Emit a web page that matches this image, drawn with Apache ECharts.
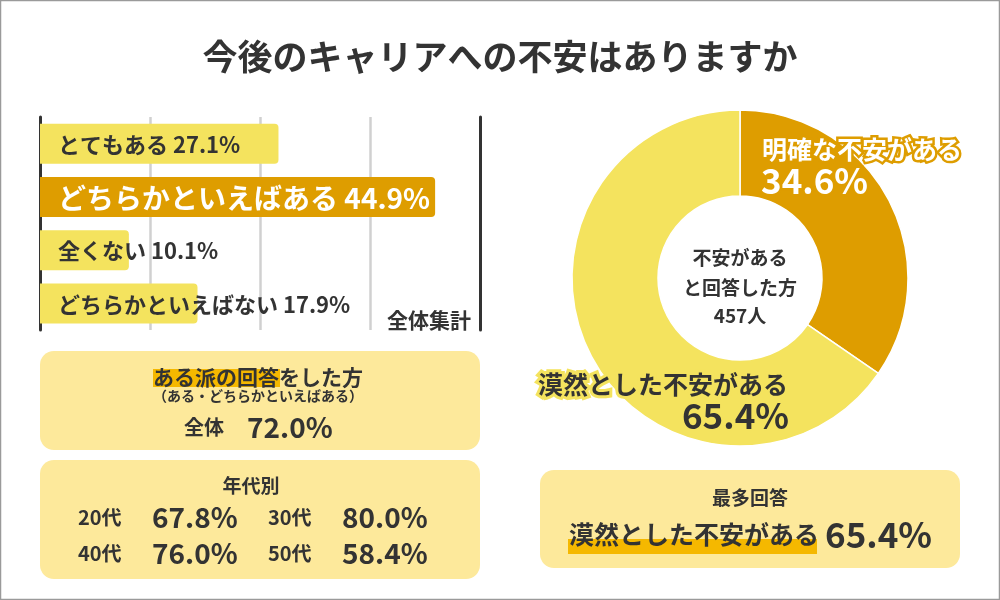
<!DOCTYPE html>
<html>
<head>
<meta charset="utf-8">
<script src="https://cdn.jsdelivr.net/npm/echarts@6/dist/echarts.min.js"></script>
<style>
  html, body { margin: 0; padding: 0; background: #fff; }
  #main { width: 1000px; height: 600px; }
</style>
</head>
<body>
<div id="main"></div>
<script>
// 全体集計（横棒）
var barNames = ['とてもある', 'どちらかといえばある', '全くない', 'どちらかといえばない'];
var barValues = [27.1, 44.9, 10.1, 17.9];

// 不安がある方の内訳（ドーナツ）
var pieNames = ['明確な不安がある', '漠然とした不安がある'];
var pieValues = [34.6, 65.4];
var pieTotal = 457;

// ある派の回答
var overallValue = 72.0;
var ageGroups = ['20代', '30代', '40代', '50代'];
var ageValues = [67.8, 80.0, 76.0, 58.4];

var FONT = '"Noto Sans CJK JP", "Noto Sans", sans-serif';
var DARK = '#333333';
var GOLD = '#DE9D00';
var YELLOW = '#F4E35E';
var PALE = '#FDE99B';
var HILITE = '#F5B800';

var maxIdx = barValues.indexOf(Math.max.apply(null, barValues));

function pct(v) {
  return v.toFixed(1) + '%';
}

function txt(x, y, text, size, opts) {
  opts = opts || {};
  return {
    type: 'text', x: x, y: y, z: opts.z || 10,
    style: {
      text: text,
      font: 'bold ' + size + 'px ' + FONT,
      fill: opts.fill || DARK,
      align: opts.align || 'center',
      verticalAlign: 'middle',
      stroke: opts.stroke,
      lineWidth: opts.lineWidth || 0
    }
  };
}

function box(x, y, w, h, fill, r) {
  return { type: 'rect', z: 1, shape: { x: x, y: y, width: w, height: h, r: r || 0 }, style: { fill: fill } };
}

var graphics = [
  // 外枠
  { type: 'rect', z: 0, shape: { x: 0.5, y: 0.5, width: 999, height: 599 }, style: { fill: 'none', stroke: '#9a9a9a', lineWidth: 1.5 } },
  txt(500, 57, '今後のキャリアへの不安はありますか', 35),
  txt(471, 320, '全体集計', 21, { align: 'right' }),

  // ある派の回答
  box(40, 351, 440, 99, PALE, 14),
  box(153, 369, 127, 18, HILITE, 0),
  txt(258, 377, 'ある派の回答をした方', 21),
  txt(258, 396, '（ある・どちらかといえばある）', 14),
  txt(204, 427, '全体', 20),
  txt(247, 427, pct(overallValue), 28, { align: 'left' }),

  // 年代別
  box(40, 460, 440, 119, PALE, 14),
  txt(251, 486, '年代別', 19)
];

// 年代別の 2x2
var ageCols = [[78, 152], [268, 342]];
var ageRows = [517, 553];
for (var i = 0; i < ageGroups.length; i++) {
  var c = ageCols[i % 2], r = ageRows[Math.floor(i / 2)];
  graphics.push(txt(c[0], r, ageGroups[i], 20, { align: 'left' }));
  graphics.push(txt(c[1], r, pct(ageValues[i]), 28, { align: 'left' }));
}

// ドーナツのラベル
graphics.push(txt(762, 149, pieNames[0], 25, { align: 'left', fill: '#fff', stroke: GOLD, lineWidth: 5 }));
graphics.push(txt(761, 181, pct(pieValues[0]), 35, { align: 'left', fill: '#fff', stroke: GOLD, lineWidth: 5 }));
graphics.push(txt(788, 384, pieNames[1], 25, { align: 'right', stroke: YELLOW, lineWidth: 6 }));
graphics.push(txt(789, 416, pct(pieValues[1]), 35, { align: 'right' }));

// 中央
graphics.push(txt(740, 258, '不安がある', 19));
graphics.push(txt(740, 288, 'と回答した方', 19));
graphics.push(txt(740, 316, pieTotal + '人', 19));

// 最多回答
var topIdx = pieValues.indexOf(Math.max.apply(null, pieValues));
graphics.push(box(540, 470, 420, 98, PALE, 14));
graphics.push(box(568, 539, 249, 15, HILITE, 0));
graphics.push(txt(750, 498, '最多回答', 19));
graphics.push(txt(569, 534, pieNames[topIdx], 25, { align: 'left' }));
graphics.push(txt(825, 535, pct(pieValues[topIdx]), 35, { align: 'left' }));

var chart = echarts.init(document.getElementById('main'));

var option = {
  animation: false,
  backgroundColor: '#fff',
  textStyle: { fontFamily: FONT },
  grid: { left: 40, top: 117, width: 440, height: 213 },
  xAxis: {
    type: 'value', min: 0, max: 50, interval: 12.5,
    axisLine: { show: false },
    axisTick: { show: false },
    axisLabel: { show: false },
    splitLine: { lineStyle: { color: '#d0d0d0', width: 2.5 } }
  },
  yAxis: [{
    type: 'category', inverse: true,
    data: barNames,
    axisLine: { lineStyle: { color: DARK, width: 3 } },
    axisTick: { show: false },
    axisLabel: { show: false }
  }, {
    type: 'category', inverse: true, position: 'right',
    data: barNames,
    axisLine: { lineStyle: { color: DARK, width: 3 } },
    axisTick: { show: false },
    axisLabel: { show: false }
  }],
  series: [{
    type: 'bar',
    barWidth: 40,
    silent: true,
    data: barValues.map(function (v, i) {
      var hi = i === maxIdx;
      return {
        value: v,
        itemStyle: { color: hi ? GOLD : YELLOW, borderRadius: [0, 4, 4, 0] },
        label: hi ? { color: '#fff', fontSize: 28 } : {}
      };
    }),
    label: {
      show: true,
      position: 'insideLeft',
      offset: [13, 1],
      fontFamily: FONT,
      fontWeight: 'bold',
      fontSize: 22,
      color: DARK,
      formatter: function (p) { return p.name + ' ' + pct(p.value); }
    }
  }, {
    type: 'pie',
    center: [740, 278],
    radius: [82, 168],
    startAngle: 90,
    clockwise: true,
    silent: true,
    label: { show: false },
    labelLine: { show: false },
    itemStyle: { borderColor: '#fff', borderWidth: 1.5 },
    data: pieNames.map(function (n, i) {
      return { name: n, value: pieValues[i], itemStyle: { color: i === 0 ? GOLD : YELLOW } };
    })
  }],
  graphic: graphics
};

chart.setOption(option);
</script>
</body>
</html>
